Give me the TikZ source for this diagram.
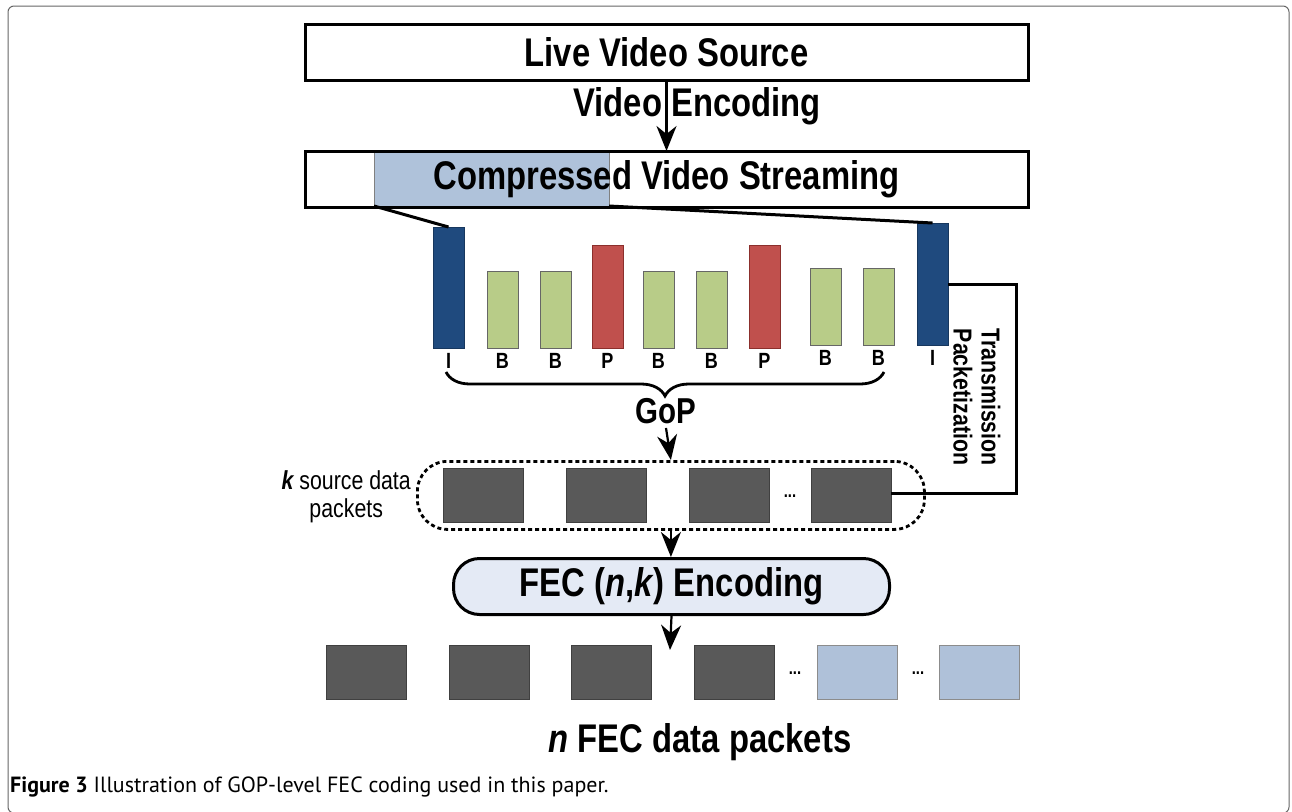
\documentclass[tikz,border=0pt]{standalone}
\usepackage{fontspec}
\setmainfont{Liberation Sans}[FakeStretch=0.82]
\newfontfamily\capfont{PT Sans}
\usetikzlibrary{arrows.meta,decorations.pathreplacing,calc}
\definecolor{stripblue}{HTML}{AFC2DA}
\definecolor{fecfill}{HTML}{E4EAF5}
\definecolor{darkpkt}{HTML}{595959}
\definecolor{lightpkt}{HTML}{AFC1D9}
\definecolor{ifill}{HTML}{1F4A7E}
\definecolor{iedge}{HTML}{17375E}
\definecolor{bfill}{HTML}{B8CC88}
\definecolor{pfill}{HTML}{C0504D}
\definecolor{pedge}{HTML}{8B2F2C}
\definecolor{framegray}{HTML}{666666}
\tikzset{
  bigbox/.style={draw=black, line width=3pt, rectangle, inner sep=0pt, outer sep=0pt, minimum width=723pt, minimum height=56pt},
  bigtext/.style={font=\fontsize{40}{44}\selectfont\bfseries},
  bar/.style={rectangle, inner sep=0pt, outer sep=0pt, minimum width=31pt, anchor=south west, line width=0.8pt},
  ibar/.style={bar, fill=ifill, draw=iedge},
  bbar/.style={bar, fill=bfill, draw=black!60},
  pbar/.style={bar, fill=pfill, draw=pedge},
  lbl/.style={font=\fontsize{22}{24}\selectfont\bfseries, anchor=north, inner sep=0pt, yshift=-5pt},
  pkt/.style={rectangle, inner sep=0pt, outer sep=0pt, minimum width=80pt, minimum height=54pt, anchor=north west, line width=0.8pt},
  dpkt/.style={pkt, fill=darkpkt, draw=black!75},
  lpkt/.style={pkt, fill=lightpkt, draw=black!45},
  conn/.style={line width=3pt, draw=black},
  arr/.style={line width=2.2pt, -{Stealth[length=25pt,width=20pt,inset=8pt]}},
  dots/.style={font=\fontsize{18}{20}\selectfont\bfseries, inner sep=0pt}
}
\begin{document}
\begin{tikzpicture}[x=1pt,y=-1pt]
\useasboundingbox (0,0) rectangle (1292,811);
\draw[framegray, line width=1pt, rounded corners=6pt] (8,6) rectangle (1289,813);

% top boxes
\node[bigbox, bigtext] (src) at (666.5,52) {Live Video Source};
\node[rectangle, fill=stripblue, draw=black!50, line width=0.6pt, inner sep=0pt, outer sep=0pt, minimum width=235pt, minimum height=54pt, anchor=north west] (strip) at (374,152) {};
\node[bigbox, bigtext] (cvs) at (666.5,179) {Compressed Video Streaming};
\node[bigtext, inner sep=0pt] (venc) at (697,106) {Video Encoding};
\draw[arr] (src.south) -- (cvs.north);

% frames
\node[ibar, minimum height=121pt] (i1) at (433,348) {};
\node[bbar, minimum height=77pt] (b1) at (487,348) {};
\node[bbar, minimum height=77pt] (b2) at (540,348) {};
\node[pbar, minimum height=103pt] (p1) at (592,348) {};
\node[bbar, minimum height=77pt] (b3) at (643,348) {};
\node[bbar, minimum height=77pt] (b4) at (696,348) {};
\node[pbar, minimum height=103pt] (p2) at (749,348) {};
\node[bbar, minimum height=77pt] (b5) at (810,345) {};
\node[bbar, minimum height=77pt] (b6) at (863,345) {};
\node[ibar, minimum height=122pt] (i2) at (917,345) {};

\node[lbl] (li1) at (i1.south) {I};
\node[lbl] (lb1) at (b1.south) {B};
\node[lbl] (lb2) at (b2.south) {B};
\node[lbl] (lp1) at (p1.south) {P};
\node[lbl] (lb3) at (b3.south) {B};
\node[lbl] (lb4) at (b4.south) {B};
\node[lbl] (lp2) at (p2.south) {P};
\node[lbl] (lb5) at (b5.south) {B};
\node[lbl] (lb6) at (b6.south) {B};
\node[lbl] (li2) at (i2.south) {I};

\draw[conn] (strip.south west) -- (i1.north);
\draw[conn] (strip.south east) -- (i2.north);

% brace
\coordinate (brL) at (446,372);
\coordinate (brR) at (884,372);
\draw[line width=2.8pt, decorate, decoration={brace, mirror, amplitude=24pt, raise=0pt}] (brL) -- (brR);
\node[font=\fontsize{36}{40}\selectfont\bfseries, inner sep=0pt] (gop) at (666,411) {GoP};

% k source packets
\node[draw=black, line width=2.8pt, dash pattern=on 4pt off 3pt, rounded corners=30pt, rectangle, inner sep=0pt, minimum width=507pt, minimum height=68pt, anchor=north west] (kbox) at (416,460) {};
\draw[arr] ($(gop.south)+(0,4)$) -- (kbox.north);
\node[dpkt] (k1) at (443,468) {};
\node[dpkt] (k2) at (566,468) {};
\node[dpkt] (k3) at (689,468) {};
\node[dpkt] (k4) at (811,468) {};
\node[dots] (kd) at (790,496) {...};
\node[anchor=east, align=center, font=\fontsize{26}{28}\selectfont, inner sep=0pt] (ktext) at (411,497) {{\bfseries\itshape k} source data\\packets};

% transmission packetization
\coordinate (tr) at (1016,493);
\draw[conn] (i2.east) -| (tr) -- (k4.east |- tr);
\node[rotate=-90, align=center, font=\fontsize{26}{28}\selectfont\bfseries, inner sep=0pt] (tp) at (977,397) {Transmission\\Packetization};

% FEC
\node[draw=black, line width=3pt, fill=fecfill, rounded corners=26pt, rectangle, inner sep=0pt, minimum width=436pt, minimum height=56pt, anchor=north west] (fec) at (452,557) {};
\node[bigtext, inner sep=0pt] (fect) at (fec.center) {FEC (\textit{n},\textit{k}) Encoding};
\draw[arr] (kbox.south) -- (kbox.south |- fec.north);
\coordinate (fecend) at (670,650);
\draw[arr] (fec.south) -- (fecend);

% n packets
\node[dpkt] (n1) at (326,645) {};
\node[dpkt] (n2) at (449,645) {};
\node[dpkt] (n3) at (571,645) {};
\node[dpkt] (n4) at (694,645) {};
\node[dots] (nd1) at (795,673) {...};
\node[lpkt] (n5) at (817,645) {};
\node[dots] (nd2) at (918,673) {...};
\node[lpkt] (n6) at (939,645) {};
\node[bigtext, inner sep=0pt] (ntext) at (700,742) {\textit{n} FEC data packets};

% caption
\node[anchor=west, inner sep=0pt, font=\capfont\fontsize{22}{24}\selectfont] (cap) at (10,787) {\textbf{Figure 3} Illustration of GOP-level FEC coding used in this paper.};
\end{tikzpicture}
\end{document}
